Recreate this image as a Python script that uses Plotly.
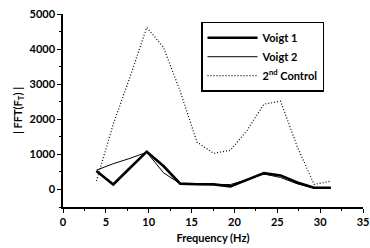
import plotly.graph_objects as go

freq = [3.9, 5.86, 7.81, 9.77, 11.72, 13.67, 15.63, 17.58, 19.53, 21.48, 23.44, 25.39, 27.34, 29.3, 31.25]
voigt1 = [523, 143, 610, 1077, 667, 165, 150, 145, 86, 280, 466, 400, 200, 50, 50]
voigt2 = [550, 733, 886, 1060, 477, 165, 150, 150, 140, 280, 440, 340, 160, 30, 50]
control = [240, 1857, 3200, 4620, 4050, 2800, 1350, 1030, 1114, 1686, 2430, 2514, 1210, 143, 237]

font = "Lato"
fig = go.Figure()
fig.add_trace(go.Scatter(x=freq, y=voigt1, mode="lines", name="Voigt 1",
                         line=dict(color="black", width=2.6)))
fig.add_trace(go.Scatter(x=freq, y=voigt2, mode="lines", name="Voigt 2",
                         line=dict(color="black", width=1)))
fig.add_trace(go.Scatter(x=freq, y=control, mode="lines", name="2<sup>nd</sup> Control",
                         line=dict(color="black", width=1.2, dash="1px,2px")))

fig.update_layout(
    width=370, height=248,
    margin=dict(l=63, r=7, t=14, b=41),
    paper_bgcolor="white", plot_bgcolor="white",
    font=dict(family=font, size=11, color="black"),
    showlegend=True,
    legend=dict(x=0.46, y=0.96, xanchor="left", yanchor="top",
                bordercolor="black", borderwidth=1.5, bgcolor="white",
                font=dict(family=font, size=11, color="black", weight="bold"),
                itemwidth=50, tracegroupgap=0),
    xaxis=dict(range=[0, 35], tickmode="array", tickvals=[0, 5, 10, 15, 20, 25, 30, 35],
               automargin=False,
               showgrid=False, zeroline=False, showline=True, linecolor="black", linewidth=1.5,
               ticks="outside", ticklen=4, tickwidth=1.2, tickcolor="black",
               tickfont=dict(family=font, size=11, weight="bold"),
               minor=dict(ticks="outside", dtick=2.5, ticklen=2, tickwidth=1, tickcolor="black"),
               title=dict(text="Frequency (Hz)", font=dict(family=font, size=11, weight="bold"), standoff=7)),
    yaxis=dict(range=[-500, 5000], tickmode="array", tickvals=[0, 1000, 2000, 3000, 4000, 5000],
               automargin=False,
               showgrid=False, zeroline=False, showline=True, linecolor="black", linewidth=1.5,
               ticks="outside", ticklen=4, tickwidth=1.2, tickcolor="black",
               tickfont=dict(family=font, size=11, weight="bold"),
               minor=dict(ticks="outside", dtick=500, ticklen=2, tickwidth=1, tickcolor="black"),
               title=dict(text="| FFT(F<sub>T</sub>) |", font=dict(family=font, size=11, weight="bold"), standoff=5)),
)

fig.write_html("out.html", config={"displayModeBar": False},
               post_script="document.body.style.margin='0';")
